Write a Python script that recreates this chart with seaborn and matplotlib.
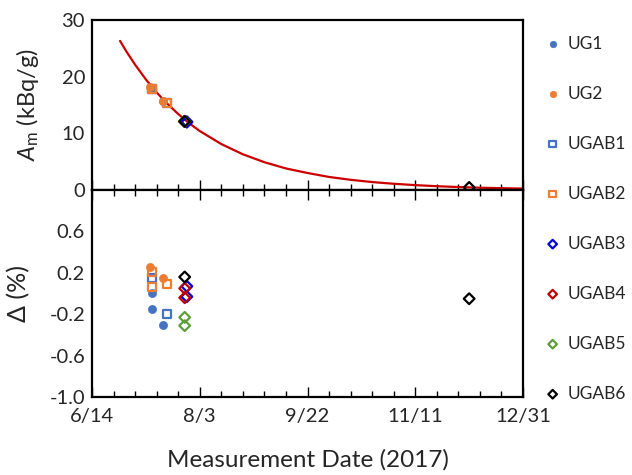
import matplotlib
matplotlib.use("Agg")
import matplotlib.pyplot as plt
import matplotlib.dates as mdates
from matplotlib.ticker import MultipleLocator, FixedLocator, FuncFormatter, NullFormatter
import seaborn as sns
import pandas as pd

# decay curve (days after 6/14/2017, kBq/g)
curve_start = pd.Timestamp("2017-06-14")
curve_day = [13, 16, 20, 25, 30, 35, 40, 45, 50, 60, 70, 80, 90, 100,
             110, 120, 130, 140, 150, 160, 170, 180, 190, 200]
curve_am = [26.3, 24.4, 22.1, 19.5, 17.2, 15.2, 13.4, 11.8, 10.4, 8.1, 6.3,
            4.9, 3.8, 3.0, 2.3, 1.8, 1.4, 1.1, 0.86, 0.67, 0.52, 0.40, 0.32,
            0.25]

samples = ["UG1", "UG2", "UGAB1", "UGAB2", "UGAB3", "UGAB4", "UGAB5", "UGAB6"]
meas_dates = {
    "UG1": ["2017-07-12", "2017-07-12", "2017-07-17"],
    "UG2": ["2017-07-11", "2017-07-17"],
    "UGAB1": ["2017-07-12", "2017-07-19"],
    "UGAB2": ["2017-07-12", "2017-07-12", "2017-07-19"],
    "UGAB3": ["2017-07-28", "2017-07-28"],
    "UGAB4": ["2017-07-27", "2017-07-27"],
    "UGAB5": ["2017-07-27", "2017-07-27"],
    "UGAB6": ["2017-07-27", "2017-12-06"],
}
meas_am = {
    "UG1": [18.0, 18.0, 15.7],
    "UG2": [18.1, 15.7],
    "UGAB1": [17.8, 15.3],
    "UGAB2": [17.8, 17.8, 15.3],
    "UGAB3": [12.0, 12.0],
    "UGAB4": [12.1, 12.1],
    "UGAB5": [12.1, 12.1],
    "UGAB6": [12.1, 0.45],
}
meas_delta = {
    "UG1": [0.01, -0.15, -0.30],
    "UG2": [0.26, 0.15],
    "UGAB1": [0.15, -0.20],
    "UGAB2": [0.21, 0.06, 0.09],
    "UGAB3": [0.07, -0.03],
    "UGAB4": [0.05, -0.04],
    "UGAB5": [-0.23, -0.31],
    "UGAB6": [0.16, -0.05],
}

# marker, colour, filled
styles = {
    "UG1": ("o", "#4472C4", True),
    "UG2": ("o", "#ED7D31", True),
    "UGAB1": ("s", "#4472C4", False),
    "UGAB2": ("s", "#ED7D31", False),
    "UGAB3": ("D", "#0000E0", False),
    "UGAB4": ("D", "#C00000", False),
    "UGAB5": ("D", "#5E9E3A", False),
    "UGAB6": ("D", "#000000", False),
}

sns.set_style("white")
plt.rcParams["font.family"] = ["Lato", "DejaVu Sans"]
plt.rcParams["mathtext.fontset"] = "custom"
plt.rcParams["mathtext.rm"] = "Lato"
plt.rcParams["mathtext.it"] = "Lato:italic"

fig = plt.figure(figsize=(6.32, 4.75), dpi=100)
ax1 = fig.add_axes([0.1456, 0.6, 0.682, 0.358])
ax2 = fig.add_axes([0.1456, 0.164, 0.682, 0.436])

curve_dates = [curve_start + pd.Timedelta(days=d) for d in curve_day]
sns.lineplot(x=curve_dates, y=curve_am, ax=ax1, color="#CC0000",
             linewidth=1.6, zorder=1)

sizes = {"o": 34, "s": 34, "D": 30}
for name in samples:
    marker, color, filled = styles[name]
    dates = pd.to_datetime(meas_dates[name])
    kw = dict(marker=marker, s=sizes[marker], zorder=3)
    if filled:
        kw.update(color=color, edgecolor=color, linewidth=0.5)
    else:
        kw.update(facecolors="none", edgecolor=color, linewidth=1.6)
    sns.scatterplot(x=dates, y=meas_am[name], ax=ax1, label=name, **kw)
    sns.scatterplot(x=dates, y=meas_delta[name], ax=ax2, **kw)

x0 = mdates.date2num(pd.Timestamp("2017-06-14"))
x1 = mdates.date2num(pd.Timestamp("2017-12-31"))
major = [x0 + 50 * i for i in range(5)]
minor = [x0 + 10 * i for i in range(21)]


def date_fmt(v, pos):
    d = mdates.num2date(v)
    return f"{d.month}/{d.day}"


for ax in (ax1, ax2):
    ax.set_xlim(x0, x1)
    ax.xaxis.set_major_locator(FixedLocator(major))
    ax.xaxis.set_minor_locator(FixedLocator(minor))
    for sp in ax.spines.values():
        sp.set_linewidth(1.6)
        sp.set_color("black")
    ax.tick_params(which="both", direction="in", color="black", width=1,
                   labelsize=14.5, right=False)
    ax.tick_params(which="major", length=7)
    ax.tick_params(which="minor", length=4)
    ax.tick_params(axis="y", pad=5)
    ax.tick_params(axis="x", pad=8)
    ax.set_xlabel("")
    ax.set_ylabel("")

ax1.set_ylim(0, 30)
ax1.yaxis.set_major_locator(MultipleLocator(10))
ax1.yaxis.set_minor_locator(MultipleLocator(2))
ax1.tick_params(axis="x", which="both", bottom=True, top=False,
                labelbottom=False)
ax1.set_ylabel(r"$A_\mathrm{m}$ (kBq/g)", fontsize=17, labelpad=15)
if ax1.get_legend():
    ax1.get_legend().remove()

ax2.set_ylim(-1.0, 1.0)
ax2.yaxis.set_major_locator(FixedLocator([-1.0, -0.6, -0.2, 0.2, 0.6, 1.0]))
ax2.yaxis.set_minor_locator(MultipleLocator(0.1))
ax2.yaxis.set_major_formatter(
    FuncFormatter(lambda v, p: "" if v > 0.9 else f"{v:.1f}"))
ax2.tick_params(axis="x", which="both", bottom=True, top=True)
ax2.xaxis.set_major_formatter(FuncFormatter(date_fmt))
ax2.xaxis.set_minor_formatter(NullFormatter())
ax2.set_ylabel("Δ (%)", fontsize=18, labelpad=14)
ax2.set_xlabel("Measurement Date (2017)", fontsize=17.5, labelpad=17)

handles, labels = ax1.get_legend_handles_labels()
fig.legend(handles, labels, loc="upper left", bbox_to_anchor=(0.836, 0.958),
           frameon=False, fontsize=12.5, labelspacing=1.96, handletextpad=0.35,
           handlelength=1.0, markerscale=0.8)

fig.savefig("out.png", dpi=100)
